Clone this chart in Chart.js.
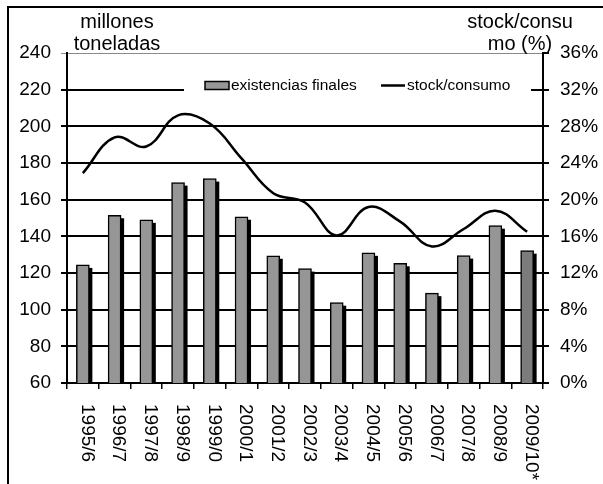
<!DOCTYPE html>
<html>
<head>
<meta charset="utf-8">
<script src="https://cdn.jsdelivr.net/npm/chart.js@4.4.0/dist/chart.umd.min.js"></script>
<style>
  html, body { margin: 0; padding: 0; background: #fff; }
  #wrap { width: 603px; height: 484px; }
</style>
</head>
<body>
<div id="wrap"><canvas id="chart" width="603" height="484"></canvas></div>
<script>
const categories = ['1995/6', '1996/7', '1997/8', '1998/9', '1999/0', '2000/1', '2001/2', '2002/3',
  '2003/4', '2004/5', '2005/6', '2006/7', '2007/8', '2008/9', '2009/10*']
// millones de toneladas
const existencias = [124.4, 151.5, 149, 169.3, 171.5, 150.7, 129.4, 122.4, 103.8, 131, 125.3, 109, 129.5, 145.8, 132.2]
// ratio stock/consumo en %
const stockConsumo = [22.9, 26.8, 25.8, 29.2, 28.3, 24.5, 20.7, 19.7, 16.1, 19.2, 17.6, 14.9, 16.8, 18.8, 16.5]
const leftTitle = ['millones', 'toneladas']
const rightTitle = ['stock/consu', 'mo (%)']

const FONT = "'Liberation Sans', Arial, sans-serif"
const GRAY = '#969696'
const barColors = existencias.map((v, i) => i === existencias.length - 1 ? '#7c7c7c' : GRAY)

const decorations = {
  id: 'decorations',
  // dark offset block behind every bar
  beforeDatasetDraw(chart, args) {
    if (args.meta.type !== 'bar') return
    const ctx = chart.ctx
    const bottom = chart.chartArea.bottom
    ctx.save()
    ctx.fillStyle = '#000'
    args.meta.data.forEach(el => {
      const { x, y, width } = el.getProps(['x', 'y', 'width'], true)
      ctx.fillRect(x - width / 2 + 3, y + 3, width, bottom - y - 3)
    })
    ctx.restore()
  },
  afterDraw(chart) {
    const ctx = chart.ctx
    const xs = chart.scales.x
    ctx.save()

    // outer frame (top and left only)
    ctx.strokeStyle = '#000'
    ctx.lineWidth = 2
    ctx.beginPath()
    ctx.moveTo(8, 484)
    ctx.lineTo(8, 7)
    ctx.lineTo(603, 7)
    ctx.stroke()

    // axis titles
    ctx.fillStyle = '#000'
    ctx.font = '20px ' + FONT
    ctx.textAlign = 'center'
    ctx.textBaseline = 'alphabetic'
    leftTitle.forEach((t, i) => ctx.fillText(t, 117, 28 + i * 22))
    rightTitle.forEach((t, i) => ctx.fillText(t, 520, 28 + i * 22))

    // category labels, rotated clockwise
    ctx.font = '19px ' + FONT
    ctx.textAlign = 'left'
    ctx.textBaseline = 'middle'
    categories.forEach((c, i) => {
      ctx.save()
      ctx.translate(xs.getPixelForValue(i) + 4, xs.top + 21)
      ctx.rotate(Math.PI / 2)
      ctx.fillText(c, 0, 0)
      ctx.restore()
    })

    // legend box inside the plot
    const ds = chart.data.datasets
    ctx.fillStyle = '#fff'
    ctx.fillRect(184, 76, 347, 20)
    ctx.fillStyle = GRAY
    ctx.fillRect(205, 81.5, 24, 8)
    ctx.strokeStyle = '#000'
    ctx.lineWidth = 1.5
    ctx.strokeRect(205, 81.5, 24, 8)
    ctx.lineWidth = 2.5
    ctx.beginPath()
    ctx.moveTo(381, 85.5)
    ctx.lineTo(405, 85.5)
    ctx.stroke()
    ctx.fillStyle = '#000'
    ctx.font = '15.5px ' + FONT
    ctx.fillText(ds[0].label, 231, 86)
    ctx.fillText(ds[1].label, 407, 86)

    ctx.restore()
  }
}

new Chart(document.getElementById('chart'), {
  type: 'bar',
  data: {
    labels: categories,
    datasets: [{
      type: 'bar',
      label: 'existencias finales',
      data: existencias,
      backgroundColor: barColors,
      borderColor: '#000',
      borderWidth: 1.5,
      barThickness: 13,
      yAxisID: 'y',
      order: 2
    }, {
      type: 'line',
      label: 'stock/consumo',
      data: stockConsumo,
      borderColor: '#000',
      borderWidth: 2.5,
      tension: 0.4,
      pointRadius: 0,
      fill: false,
      yAxisID: 'y2',
      order: 1
    }]
  },
  options: {
    responsive: false,
    animation: false,
    devicePixelRatio: 1,
    layout: { padding: { top: 53, left: 0, right: 0, bottom: 0 } },
    plugins: { legend: { display: false }, tooltip: { enabled: false } },
    scales: {
      x: {
        offset: true,
        grid: { offset: true, drawOnChartArea: false, tickLength: 6, color: '#000', lineWidth: 1.5 },
        border: { color: '#000', width: 2 },
        ticks: { display: false },
        afterFit(s) { s.height = 101 }
      },
      y: {
        position: 'left',
        min: 60,
        max: 240,
        ticks: { stepSize: 20, color: '#000', padding: 10, font: { family: FONT, size: 19 } },
        grid: {
          tickLength: 6,
          color: c => c.tick && c.tick.value === 240 ? '#8a8a8a' : '#000',
          lineWidth: c => c.tick && c.tick.value === 240 ? 1 : 2
        },
        border: { color: '#000', width: 2 },
        afterFit(s) { s.width = 67 }
      },
      y2: {
        position: 'right',
        min: 0,
        max: 36,
        ticks: {
          stepSize: 4, color: '#000', padding: 11, font: { family: FONT, size: 19 },
          callback: v => v + '%'
        },
        grid: { drawOnChartArea: false, tickLength: 6, color: '#000', lineWidth: 2 },
        border: { color: '#000', width: 2 },
        afterFit(s) { s.width = 60 }
      }
    }
  },
  plugins: [decorations]
})
</script>
</body>
</html>
